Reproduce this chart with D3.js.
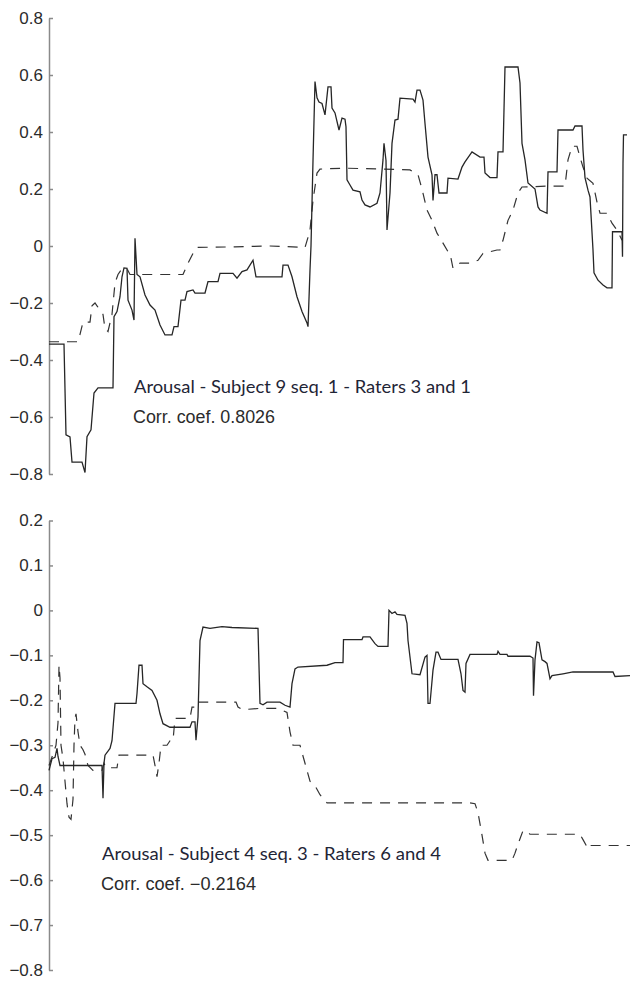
<!DOCTYPE html>
<html>
<head>
<meta charset="utf-8">
<script src="https://cdnjs.cloudflare.com/ajax/libs/d3/7.8.5/d3.min.js"></script>
<style>
  body { margin: 0; background: #fff; }
  .axis path, .axis line { stroke: #8a8a8a; stroke-width: 1.5; }
  .axis text { font-family: "Liberation Sans", Arial, sans-serif; font-size: 17px; fill: #2b2b2b; }
  .solid { fill: none; stroke: #262626; stroke-width: 1.3; }
  .dashed { fill: none; stroke: #333; stroke-width: 1.2; stroke-dasharray: 10,8; }
  .title { font-family: Lato, "Open Sans", sans-serif; font-size: 18px; fill: #1f2536; }
  .coef { font-family: "Liberation Sans", Arial, sans-serif; font-size: 17.5px; fill: #2b2b2b; }
</style>
</head>
<body>
<svg width="631" height="983"></svg>
<script>
var svg = d3.select("svg");

// tick values
var topTicks = [-0.8, -0.6, -0.4, -0.2, 0, 0.2, 0.4, 0.6, 0.8];
var bottomTicks = [-0.8, -0.7, -0.6, -0.5, -0.4, -0.3, -0.2, -0.1, 0, 0.1, 0.2];

// top: Subject 9 seq. 1, rater 3 (solid) and rater 1 (dashed)
var topSolidT = [0,15,17,21,23,33,36,38,42,45,49,64,65,68,71,73,75,78,79,83,85,86,88,91,96,101,106,111,116,123,125,129,132,136,138,144,146,156,159,169,171,184,188,193,198,204,207,233,234,239,243,248,253,258,259,261,262,264,266,268,270,273,276,279,282,283,286,290,293,296,297,298,301,304,311,313,316,321,328,331,334,335,337,338,341,343,346,349,351,364,366,368,371,374,376,379,383,384,386,388,390,398,399,409,413,416,423,431,435,436,441,448,449,454,456,469,471,473,476,479,486,489,491,498,499,508,509,524,526,533,534,536,539,541,544,545,549,554,558,563,563.5,573,573.5,574,574.5,578];
var topSolidV = [-0.344,-0.344,-0.663,-0.67,-0.758,-0.758,-0.795,-0.669,-0.645,-0.516,-0.498,-0.498,-0.248,-0.23,-0.178,-0.108,-0.077,-0.078,-0.19,-0.225,-0.26,0.027,-0.1,-0.108,-0.172,-0.207,-0.225,-0.277,-0.312,-0.312,-0.283,-0.283,-0.19,-0.19,-0.16,-0.154,-0.165,-0.165,-0.125,-0.125,-0.096,-0.096,-0.113,-0.09,-0.084,-0.05,-0.108,-0.108,-0.067,-0.067,-0.108,-0.178,-0.23,-0.27,-0.283,-0.084,0,0.3,0.577,0.52,0.505,0.5,0.46,0.558,0.558,0.484,0.467,0.407,0.449,0.445,0.418,0.232,0.214,0.196,0.19,0.161,0.144,0.137,0.15,0.186,0.302,0.36,0.3,0.056,0.186,0.36,0.442,0.445,0.519,0.515,0.505,0.547,0.547,0.512,0.43,0.312,0.25,0.16,0.25,0.25,0.186,0.186,0.238,0.235,0.277,0.295,0.33,0.312,0.312,0.256,0.24,0.24,0.33,0.33,0.628,0.628,0.572,0.36,0.302,0.221,0.2,0.137,0.126,0.115,0.26,0.26,0.407,0.407,0.421,0.421,0.337,0.24,0.196,0.172,-0.014,-0.094,-0.12,-0.137,-0.147,-0.147,0.05,0.05,-0.038,0.29,0.39,0.39];
var topDashT = [0,29,31,34,41,43,46,48,54,56,59,63,66,69,73,78,81,91,134,139,144,148,186,221,256,259,261,264,268,271,296,334,361,369,373,378,383,388,394,399,401,404,411,421,429,434,448,451,454,459,464,469,473,498,516,519,523,528,531,534,538,544,548,551,558,563,568,573];
var topDashV = [-0.336,-0.336,-0.31,-0.267,-0.267,-0.21,-0.2,-0.21,-0.24,-0.29,-0.3,-0.24,-0.13,-0.1,-0.08,-0.08,-0.1,-0.1,-0.1,-0.06,-0.026,-0.005,-0.003,0,-0.005,0.03,0.056,0.16,0.256,0.27,0.273,0.27,0.267,0.25,0.2,0.126,0.09,0.045,0.01,-0.02,-0.026,-0.078,-0.06,-0.06,-0.05,-0.026,-0.014,-0.014,0.02,0.09,0.126,0.186,0.207,0.21,0.21,0.302,0.35,0.35,0.312,0.277,0.238,0.22,0.154,0.115,0.115,0.08,0.056,0.02];

// bottom: Subject 4 seq. 3, rater 6 (solid) and rater 4 (dashed)
var botSolidT = [0,3,6,8,9,11,53,54,55,56,61,63,66,87,88,90,93,94,98,103,108,111,114,121,141,143,146,147,149,151,154,161,173,183,209,211,214,218,231,236,241,243,246,249,278,286,294,294.5,313,314,321,326,329,339,340,343,346,348,356,358,359,363,371,376,378,379,381,384,387,389,392,409,412,414,416,417,421,448,449,451,458,459,481,484,484.5,486,488,490,493,496,498,501,503,514,524,564,566,581];
var botSolidV = [-0.356,-0.33,-0.327,-0.307,-0.325,-0.345,-0.345,-0.418,-0.34,-0.322,-0.307,-0.29,-0.207,-0.207,-0.185,-0.122,-0.122,-0.163,-0.17,-0.178,-0.2,-0.23,-0.252,-0.26,-0.26,-0.248,-0.248,-0.289,-0.237,-0.067,-0.037,-0.04,-0.036,-0.038,-0.04,-0.207,-0.21,-0.204,-0.204,-0.211,-0.215,-0.163,-0.13,-0.126,-0.122,-0.116,-0.116,-0.065,-0.065,-0.059,-0.059,-0.074,-0.08,-0.08,0,-0.007,-0.003,-0.009,-0.011,-0.029,-0.067,-0.141,-0.143,-0.104,-0.1,-0.207,-0.207,-0.133,-0.093,-0.093,-0.109,-0.109,-0.141,-0.178,-0.182,-0.118,-0.098,-0.098,-0.091,-0.098,-0.098,-0.102,-0.102,-0.106,-0.19,-0.11,-0.07,-0.072,-0.11,-0.114,-0.118,-0.152,-0.145,-0.141,-0.137,-0.137,-0.147,-0.145];
var botDashT = [0,4,7,9,10,11,12,14,16,18,20,22,24,25,26,27,29,31,34,36,39,44,53,55,57,68,70,104,106,108,110,112,118,121,124,126,141,143,148,149,187,189,193,199,211,228,231,238,241,244,251,256,261,266,271,278,421,426,429,433,436,439,463,466,469,474,476,481,531,534,539,541,581];
var botDashV = [-0.345,-0.32,-0.3,-0.25,-0.122,-0.15,-0.3,-0.33,-0.38,-0.43,-0.46,-0.465,-0.42,-0.3,-0.24,-0.23,-0.27,-0.3,-0.31,-0.32,-0.345,-0.356,-0.356,-0.34,-0.35,-0.35,-0.322,-0.322,-0.345,-0.37,-0.34,-0.3,-0.3,-0.29,-0.29,-0.24,-0.24,-0.215,-0.215,-0.204,-0.204,-0.215,-0.22,-0.22,-0.218,-0.218,-0.22,-0.227,-0.27,-0.3,-0.3,-0.34,-0.38,-0.39,-0.41,-0.428,-0.428,-0.43,-0.45,-0.5,-0.54,-0.556,-0.556,-0.54,-0.52,-0.49,-0.49,-0.498,-0.498,-0.51,-0.53,-0.523,-0.523];

function zip(t, v) { return t.map(function(d, i) { return {t: d, v: v[i]}; }); }

var fmt = function(d) { return Math.abs(d) < 1e-9 ? "0" : d3.format(".1f")(d); };

var x = d3.scaleLinear().domain([0, 581]).range([49, 630]);

function panel(yDomain, yRange, ticks, solid, dashed, title, coef, tx, ty) {
  var y = d3.scaleLinear().domain(yDomain).range(yRange);

  svg.append("g")
    .attr("class", "axis")
    .attr("transform", "translate(49,0)")
    .call(d3.axisLeft(y).tickValues(ticks).tickFormat(fmt).tickSizeInner(-4).tickSizeOuter(0).tickPadding(6));

  var line = d3.line()
    .x(function(d) { return x(d.t); })
    .y(function(d) { return y(d.v); });

  svg.append("path").attr("class", "dashed").attr("d", line(dashed));
  svg.append("path").attr("class", "solid").attr("d", line(solid));

  svg.append("text").attr("class", "title")
    .attr("x", tx).attr("y", ty)
    .attr("textLength", title[1]).attr("lengthAdjust", "spacingAndGlyphs")
    .text(title[0]);
  svg.append("text").attr("class", "coef")
    .attr("x", tx - 1).attr("y", ty + 30)
    .attr("textLength", coef[1]).attr("lengthAdjust", "spacingAndGlyphs")
    .text(coef[0]);
}

panel([-0.8, 0.8], [474, 18], topTicks, zip(topSolidT, topSolidV), zip(topDashT, topDashV),
  ["Arousal - Subject 9 seq. 1 - Raters 3 and 1", 337], ["Corr. coef. 0.8026", 142], 134, 393);

panel([-0.8, 0.2], [970, 520.5], bottomTicks, zip(botSolidT, botSolidV), zip(botDashT, botDashV),
  ["Arousal - Subject 4 seq. 3 - Raters 6 and 4", 339], ["Corr. coef. \u22120.2164", 155], 102, 860);
</script>
</body>
</html>
